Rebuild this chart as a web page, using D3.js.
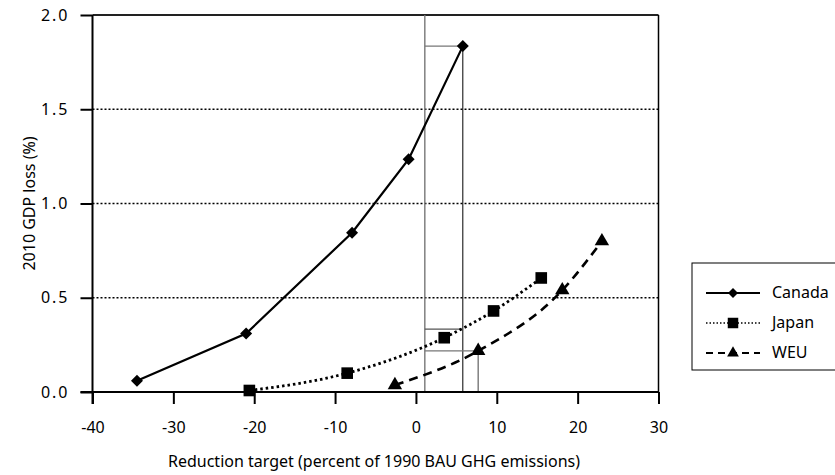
<!DOCTYPE html>
<html><head><meta charset="utf-8">
<script src="https://cdn.jsdelivr.net/npm/d3@7"></script>
<style>
body{margin:0;background:#fff;}
svg{display:block;font-family:"Noto Sans",sans-serif;}
</style></head>
<body><svg id="c" width="835" height="475"></svg>
<script>
const xTicks = [-40,-30,-20,-10,0,10,20,30];
const yTicks = [0.0,0.5,1.0,1.5,2.0];
const canadaX = [-34.5,-21,-7.9,-0.9,5.8];
const canadaY = [0.06,0.31,0.845,1.235,1.835];
const japanX = [-20.6,-8.5,3.5,9.6,15.5];
const japanY = [0.008,0.1,0.288,0.43,0.605];
const weuX = [-2.6,7.7,18.1,23];
const weuY = [0.037,0.218,0.54,0.80];
const targetX = 1.1;         // reference target line
const canadaTargetX = 5.8, japanAtTarget = 0.334, weuTargetX = 7.7, weuAtTarget = 0.218;
const seriesNames = ["Canada","Japan","WEU"];

const svg = d3.select("#c");
const x = d3.scaleLinear().domain([-40,30]).range([92.5,658.5]);
const y = d3.scaleLinear().domain([0,2]).range([392,15]);
const FS = 16;

// gridlines
svg.append("g").selectAll("line").data([0.5,1.0,1.5]).join("line")
  .attr("x1",x(-40)).attr("x2",x(30)).attr("y1",d=>y(d)).attr("y2",d=>y(d))
  .attr("stroke","#000").attr("stroke-width",1.3).attr("stroke-dasharray","2,2");
// top & right border
svg.append("line").attr("x1",x(-40)).attr("x2",x(30)).attr("y1",y(2)).attr("y2",y(2))
  .attr("stroke","#222").attr("stroke-width",1.8);
svg.append("line").attr("x1",x(30)).attr("x2",x(30)).attr("y1",y(2)).attr("y2",y(0))
  .attr("stroke","#000").attr("stroke-width",1.5);

// reference lines
const ref = svg.append("g").attr("fill","none");
ref.append("line").attr("x1",x(targetX)).attr("x2",x(targetX)).attr("y1",y(0)).attr("y2",y(2))
  .attr("stroke","#777").attr("stroke-width",1.4);
ref.append("line").attr("x1",x(targetX)).attr("x2",x(canadaTargetX)).attr("y1",y(canadaY[4])).attr("y2",y(canadaY[4]))
  .attr("stroke","#777").attr("stroke-width",1.4);
ref.append("line").attr("x1",x(canadaTargetX)).attr("x2",x(canadaTargetX)).attr("y1",y(canadaY[4])).attr("y2",y(0))
  .attr("stroke","#000").attr("stroke-width",1);
ref.append("line").attr("x1",x(targetX)).attr("x2",x(canadaTargetX)).attr("y1",y(japanAtTarget)).attr("y2",y(japanAtTarget))
  .attr("stroke","#555").attr("stroke-width",1.2);
ref.append("line").attr("x1",x(targetX)).attr("x2",x(weuTargetX)).attr("y1",y(weuAtTarget)).attr("y2",y(weuAtTarget))
  .attr("stroke","#777").attr("stroke-width",1.4);
ref.append("line").attr("x1",x(weuTargetX)).attr("x2",x(weuTargetX)).attr("y1",y(weuAtTarget)).attr("y2",y(0))
  .attr("stroke","#777").attr("stroke-width",1.4);

// axes
const xa = svg.append("g").attr("transform",`translate(0,${y(0)})`)
  .call(d3.axisBottom(x).tickValues(xTicks).tickSize(12).tickSizeOuter(0).tickPadding(18).tickFormat(d=>String(d)));
const ya = svg.append("g").attr("transform",`translate(${x(-40)},0)`)
  .call(d3.axisLeft(y).tickValues(yTicks).tickSize(12).tickSizeOuter(0).tickPadding(11).tickFormat(d=>d.toFixed(1)));
[xa,ya].forEach(a=>{
  a.attr("font-size",FS).attr("font-family","Noto Sans, sans-serif");
  a.select(".domain").attr("stroke","#000").attr("stroke-width",2);
  a.selectAll(".tick line").attr("stroke","#000").attr("stroke-width",2);
  a.selectAll("text").attr("fill","#000");
});
ya.selectAll("text").attr("letter-spacing",2);
// extend axes to cross
xa.select(".domain").attr("d",`M${x(-40)-12},0H${x(30)}`);
ya.select(".domain").attr("d",`M0,${y(2)}V${y(0)+12}`);

// labels
svg.append("text").attr("x",374).attr("y",467).attr("text-anchor","middle")
  .attr("font-size",FS).text("Reduction target (percent of 1990 BAU GHG emissions)");
svg.append("text").attr("transform",`translate(35,${y(1)}) rotate(-90)`).attr("text-anchor","middle")
  .attr("font-size",FS).text("2010 GDP loss (%)");

// series
const diamond = {draw(ctx,size){const r=Math.sqrt(size/2);ctx.moveTo(0,-r);ctx.lineTo(r,0);ctx.lineTo(0,r);ctx.lineTo(-r,0);ctx.closePath();}};
const styles = {
  Canada:{dash:null, w:2.2, curve:d3.curveLinear, sym:diamond, size:72},
  Japan:{dash:"2.5,3", w:2.8, curve:d3.curveMonotoneX, sym:d3.symbolSquare, size:135},
  WEU:{dash:"9,6", w:2.6, curve:d3.curveMonotoneX, sym:d3.symbolTriangle, size:90}
};
const data = {
  Canada: canadaX.map((v,i)=>[v,canadaY[i]]),
  Japan: japanX.map((v,i)=>[v,japanY[i]]),
  WEU: weuX.map((v,i)=>[v,weuY[i]])
};
seriesNames.forEach(n=>{
  const s = styles[n];
  svg.append("path").datum(data[n])
    .attr("d", d3.line().x(d=>x(d[0])).y(d=>y(d[1])).curve(s.curve))
    .attr("fill","none").attr("stroke","#000").attr("stroke-width",s.w)
    .attr("stroke-dasharray",s.dash);
  svg.append("g").selectAll("path").data(data[n]).join("path")
    .attr("transform",d=>`translate(${x(d[0])},${y(d[1])})`)
    .attr("d",d3.symbol().type(s.sym).size(s.size)).attr("fill","#000");
});

// legend
const lg = svg.append("g");
lg.append("rect").attr("x",692).attr("y",263).attr("width",150).attr("height",107)
  .attr("fill","#fff").attr("stroke","#000").attr("stroke-width",1);
seriesNames.forEach((n,i)=>{
  const s = styles[n];
  const yy = 293 + i*30;
  lg.append("line").attr("x1",706).attr("x2",760).attr("y1",yy).attr("y2",yy)
    .attr("stroke","#000").attr("stroke-width",n==="Japan"?1.6:2).attr("stroke-dasharray", n==="Japan"?"1.5,2":(n==="WEU"?"7,5":null));
  lg.append("path").attr("transform",`translate(733,${yy})`)
    .attr("d",d3.symbol().type(s.sym).size(n==="Japan"?110:(n==="WEU"?60:50))).attr("fill","#000");
  lg.append("text").attr("x",772).attr("y",yy+5).attr("font-size",FS).text(n);
});
</script></body></html>
